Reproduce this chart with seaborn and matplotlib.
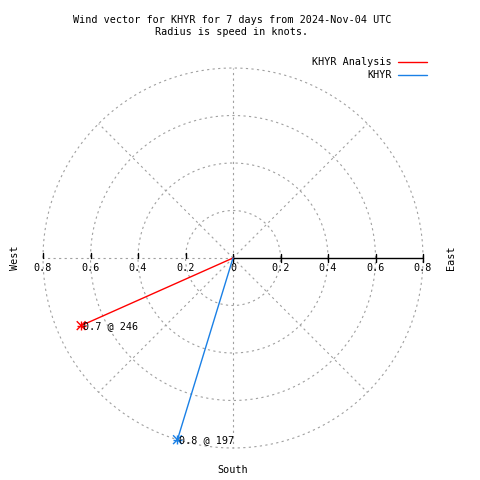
import numpy as np
import pandas as pd
import matplotlib
matplotlib.use("Agg")
import matplotlib.pyplot as plt
import seaborn as sns

# wind vectors: speed (knots) and direction (deg, from north, clockwise)
series = ["KHYR Analysis", "KHYR"]
speeds = [0.7, 0.8]
directions = [246, 197]
colors = ["#ff0000", "#1a80e6"]

rings = [0.2, 0.4, 0.6, 0.8]
spokes = [0, 45, 90, 135, 180, 225, 270, 315]
tick_vals = [-0.8, -0.6, -0.4, -0.2, 0, 0.2, 0.4, 0.6, 0.8]
tick_labels = ["0.8", "0.6", "0.4", "0.2", "0", "0.2", "0.4", "0.6", "0.8"]

title = "Wind vector for KHYR for 7 days from 2024-Nov-04 UTC\nRadius is speed in knots."

sns.set_style("white")
plt.rcParams["font.family"] = ["DejaVu Sans Mono"]
plt.rcParams["text.color"] = "black"
FS = 7.3

fig = plt.figure(figsize=(4.8, 4.8), dpi=100)
ax = fig.add_axes([0, 0, 1, 1])
# centre of polar plot at pixel (233, 258), 0.8 knots = 190 px
ppu = 190 / 0.8
ax.set_xlim(-233 / ppu, (480 - 233) / ppu)
ax.set_ylim(-(480 - 258) / ppu, 258 / ppu)
ax.set_axis_off()

grid_kw = dict(color="#a0a0a0", lw=0.8, ls=(0, (2, 3)), zorder=1)
t = np.linspace(0, 2 * np.pi, 400)
for r in rings:
    ax.plot(r * np.cos(t), r * np.sin(t), **grid_kw)
rmax = max(rings)
for a in spokes:
    if a == 90:
        continue  # east spoke is covered by the axis
    th = np.deg2rad(a)
    ax.plot([0, rmax * np.sin(th)], [0, rmax * np.cos(th)], **grid_kw)

# radial axis (east) and ticks
ax.plot([0, rmax], [0, 0], color="black", lw=1, zorder=3)
tl = 4 / ppu
for v, lab in zip(tick_vals, tick_labels):
    if v >= 0:
        ax.plot([v, v], [-tl, tl], color="black", lw=1, zorder=3)
    else:
        ax.plot([v, v], [0, 1.25 * tl], color="black", lw=1, zorder=3)
    ax.text(v, -10 / ppu, lab, ha="center", va="center", fontsize=FS, zorder=4)

# vectors
rows = []
for s, sp, d in zip(series, speeds, directions):
    th = np.deg2rad(d)
    rows.append({"series": s, "x": 0.0, "y": 0.0})
    rows.append({"series": s, "x": sp * np.sin(th), "y": sp * np.cos(th)})
df = pd.DataFrame(rows)
pal = dict(zip(series, colors))
sns.lineplot(data=df, x="x", y="y", hue="series", palette=pal, sort=False,
             estimator=None, legend=False, lw=1.0, ax=ax, zorder=5)
tips = df.iloc[1::2]
for mk in ["+", "x"]:
    sns.scatterplot(data=tips, x="x", y="y", hue="series", palette=pal,
                    marker=mk, s=40, linewidth=1.0, legend=False, ax=ax, zorder=6)
for (_, row), sp, d in zip(tips.iterrows(), speeds, directions):
    ax.text(row.x + 2 / ppu, row.y, f"{sp} @ {d}", ha="left", va="center",
            fontsize=FS, zorder=7)
ax.set_xlabel("")
ax.set_ylabel("")

# compass labels
ax.text(-218 / ppu, 0, "West", rotation=90, ha="center", va="center", fontsize=FS)
ax.text(218 / ppu, 0, "East", rotation=90, ha="center", va="center", fontsize=FS)
ax.text(0, -212 / ppu, "South", ha="center", va="center", fontsize=FS)

# legend
for i, (s, c) in enumerate(zip(series, colors)):
    yy = 1 - (62 + 13 * i) / 480
    fig.text(392 / 480, yy, s, ha="right", va="center", fontsize=FS)
    fig.add_artist(plt.Line2D([398 / 480, 427 / 480], [yy, yy], color=c, lw=1))

fig.text(232 / 480, 1 - 26 / 480, title, ha="center", va="center",
         fontsize=FS, linespacing=1.3)

fig.savefig("out.png", dpi=100)
